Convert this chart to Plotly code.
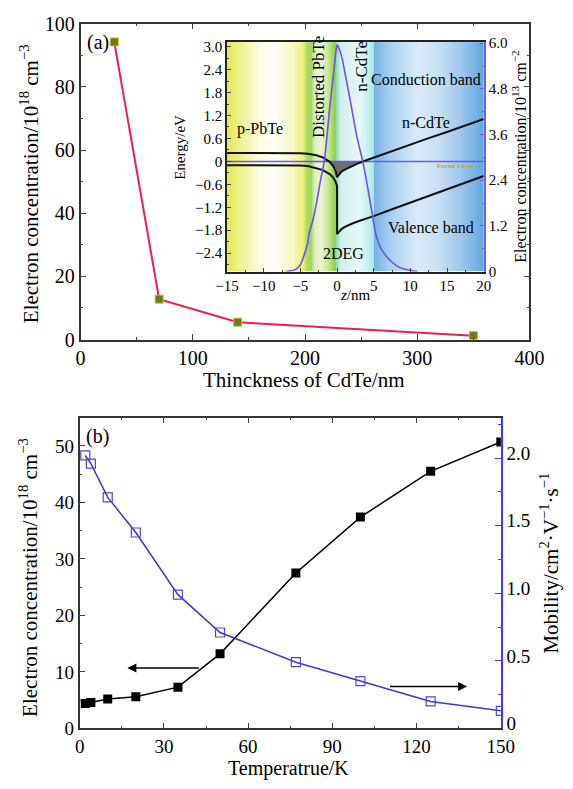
import numpy as np
import plotly.graph_objects as go

W, H = 573, 789
def px(x): return x / W
def py(y): return 1 - y / H

# ---------------- data ----------------
# panel (a) main
thickness = [30, 70, 140, 350]
conc_a = [94.2, 12.8, 5.5, 1.2]

# panel (a) inset: band diagram
z_cb = [-15, -6, -5, -4, -3, -2, -1.5, -1, -0.5, -0.2, 0, 0.3, 0.6, 1, 1.5, 2, 3, 4, 5, 7.5, 10, 12.5, 15, 17.5, 20]
cb = [0.22, 0.22, 0.215, 0.20, 0.17, 0.11, 0.06, -0.01, -0.13, -0.25, -0.41, -0.33, -0.27, -0.22, -0.17, -0.12, -0.04, 0.03, 0.10, 0.27, 0.44, 0.61, 0.77, 0.94, 1.11]
z_vb = [-15, -6, -5, -4, -3, -2, -1, -0.5, -0.2, 0, 0, 0.3, 0.6, 1, 1.5, 2, 3, 4, 5, 7.5, 10, 12.5, 15, 17.5, 20]
vb = [-0.10, -0.10, -0.105, -0.12, -0.16, -0.22, -0.33, -0.43, -0.53, -0.64, -1.90, -1.82, -1.77, -1.72, -1.67, -1.63, -1.56, -1.50, -1.43, -1.25, -1.08, -0.90, -0.73, -0.55, -0.38]
fermi_level = 0.0
z_n = [-7, -6.5, -5.7, -5, -4.65, -4, -3.8, -3.3, -2.8, -2.3, -1.7, -1.0, -0.5, -0.2, 0, 0.3, 0.73, 1.0, 1.5, 2.0, 2.7, 3.5, 4.0, 4.6, 5.3, 6.0, 6.8, 8.0, 9.0, 10.3, 11]
n2d = [0, 0.01, 0.05, 0.18, 0.34, 0.75, 1.0, 1.35, 1.8, 2.35, 2.95, 4.3, 5.15, 5.7, 5.95, 5.85, 5.57, 5.3, 4.8, 4.29, 3.55, 2.9, 2.4, 1.74, 0.97, 0.6, 0.38, 0.17, 0.07, 0.02, 0]

# panel (b)
temp = [2, 4, 10, 20, 35, 50, 77, 100, 125, 150]
conc_b = [4.4, 4.6, 5.2, 5.6, 7.3, 13.2, 27.5, 37.4, 45.5, 50.7]
mobility = [2.02, 1.96, 1.71, 1.45, 0.99, 0.71, 0.49, 0.35, 0.20, 0.13]

# tick labels
inset_y_ticks = [3.0, 2.4, 1.8, 1.2, 0.6, 0, -0.6, -1.2, -1.8, -2.4]
inset_y_text = ["3.0", "2.4", "1.8", "1.2", "0.6", "0", "\u22120.6", "\u22121.2", "\u22121.8", "\u22122.4"]
inset_x_ticks = [-15, -10, -5, 0, 5, 10, 15, 20]
inset_x_text = ["\u221215", "\u221210", "\u22125", "0", "5", "10", "15", "20"]
inset_r_ticks = [0, 1.2, 2.4, 3.6, 4.8, 6.0]
inset_r_text = ["0", "1.2", "2.4", "3.6", "4.8", "6.0"]
mob_ticks = [0, 0.5, 1.0, 1.5, 2.0]
mob_text = ["0", "0.5", "1.0", "1.5", "2.0"]

# background colour bands of the inset (position nm -> colour)
bg_pos = [-15, -13, -10.5, -8.5, -6, -4.6, -4.2, -3.6, -3.0, -2.2, -1.2, -0.3, 0, 0.5, 3.0, 4.7, 4.95, 5.05, 7, 11, 14, 17, 20]
bg_col = ["#e3e94e", "#eff296", "#fbfbe4", "#fdfdf5", "#f6f7c0", "#eef07e", "#b6dd55", "#9fd46a",
          "#e0f0c0", "#eaf5d5", "#c5e890", "#8fd048", "#9fdcc8", "#d2f0ee", "#e6f8f8", "#b5ecec",
          "#a8e6ea", "#74b2e4", "#a4cdf0", "#dbeaf8", "#c6def4", "#9ac6ec", "#5ea6e2"]

FONT = "Liberation Serif"
TICK = 20
TICK_B = 19
TITLE = 21

fig = go.Figure()

# ---------- inset background ----------
edges = np.linspace(-15, 20, 351)
centers = (edges[:-1] + edges[1:]) / 2
cs = [[(p - bg_pos[0]) / (bg_pos[-1] - bg_pos[0]), c] for p, c in zip(bg_pos, bg_col)]
fig.add_trace(go.Heatmap(x=edges, y=[-2.88, 3.12], z=[centers], colorscale=cs, zmin=-15, zmax=20,
                         showscale=False, hoverinfo="skip", xaxis="x2", yaxis="y2"))

# gray 2DEG well fill
fig.add_trace(go.Scatter(x=z_cb, y=[fermi_level] * len(z_cb), mode="lines", line=dict(width=0),
                         xaxis="x2", yaxis="y2", hoverinfo="skip"))
fig.add_trace(go.Scatter(x=z_cb, y=list(np.minimum(cb, fermi_level)), mode="lines", line=dict(width=0),
                         fill="tonexty", fillcolor="#6f6f6f", xaxis="x2", yaxis="y2", hoverinfo="skip"))
# Fermi level
fig.add_trace(go.Scatter(x=[-15, 20], y=[fermi_level, fermi_level], mode="lines",
                         line=dict(color="#6a5cf0", width=1.5), xaxis="x2", yaxis="y2"))
# bands
fig.add_trace(go.Scatter(x=z_cb, y=cb, mode="lines", line=dict(color="#111111", width=2),
                         xaxis="x2", yaxis="y2"))
fig.add_trace(go.Scatter(x=z_vb, y=vb, mode="lines", line=dict(color="#111111", width=2),
                         xaxis="x2", yaxis="y2"))
# electron density
fig.add_trace(go.Scatter(x=z_n, y=n2d, mode="lines", line=dict(color="#7050e8", width=1.6, shape="spline", smoothing=0.6),
                         xaxis="x2", yaxis="y3"))

# ---------- main panel (a) ----------
fig.add_trace(go.Scatter(x=thickness, y=conc_a, mode="lines+markers",
                         line=dict(color="#e8234a", width=2),
                         marker=dict(symbol="square", size=8, color="#6b7d12", line=dict(color="#b9bc3a", width=1)),
                         xaxis="x", yaxis="y"))

# ---------- panel (b) ----------
fig.add_trace(go.Scatter(x=temp, y=conc_b, mode="lines+markers",
                         line=dict(color="black", width=1.5),
                         marker=dict(symbol="square", size=9, color="black"),
                         xaxis="x3", yaxis="y4"))
fig.add_trace(go.Scatter(x=temp, y=mobility, mode="lines+markers",
                         line=dict(color="#3a3ac8", width=1.5),
                         marker=dict(symbol="square-open", size=9, color="#4a4ad8", line=dict(width=1.2)),
                         xaxis="x3", yaxis="y5"))

ax_common = dict(showgrid=False, zeroline=False, showline=True, ticks="inside",
                 tickfont=dict(family=FONT, size=TICK, color="black"))
ax_common_b = dict(showgrid=False, zeroline=False, showline=True, ticks="inside",
                   tickfont=dict(family=FONT, size=TICK_B, color="black"))

fig.update_layout(
    width=W, height=H, margin=dict(l=0, r=0, t=0, b=0),
    paper_bgcolor="white", plot_bgcolor="white", showlegend=False,
    font=dict(family=FONT, color="black"),
    xaxis=dict(**ax_common, domain=[px(72), px(543)], anchor="y", range=[0, 400],
               tickvals=[0, 100, 200, 300, 400], ticklen=6, tickwidth=1.3, linewidth=1.5, linecolor="#333",
               mirror="ticks", minor=dict(dtick=50, ticklen=3, ticks="inside")),
    yaxis=dict(**ax_common, domain=[py(338), py(13)], anchor="x", range=[0, 100],
               tickvals=[0, 20, 40, 60, 80, 100], ticklen=6, tickwidth=1.3, linewidth=1.5, linecolor="#333",
               mirror="ticks", minor=dict(dtick=10, ticklen=3, ticks="inside")),
    xaxis2=dict(showgrid=False, zeroline=False, showline=True, ticks="inside", domain=[px(225.7), px(495)],
                anchor="y2", range=[-15, 20], tickvals=inset_x_ticks, ticktext=inset_x_text,
                ticklen=4, linewidth=1.5, linecolor="#222", mirror=True,
                minor=dict(dtick=2.5, ticklen=2, ticks="inside"),
                tickfont=dict(family=FONT, size=15, color="black")),
    yaxis2=dict(showgrid=False, zeroline=False, showline=True, ticks="inside", domain=[py(268), py(32)],
                anchor="x2", range=[-2.88, 3.12], tickvals=inset_y_ticks, ticktext=inset_y_text,
                ticklen=4, linewidth=1.5, linecolor="#222",
                minor=dict(dtick=0.3, ticklen=2, ticks="inside"),
                tickfont=dict(family=FONT, size=15, color="black")),
    yaxis3=dict(showgrid=False, zeroline=False, showline=True, ticks="inside", overlaying="y2", side="right",
                anchor="x2", range=[0, 6.03], tickvals=inset_r_ticks, ticktext=inset_r_text,
                ticklen=4, linewidth=2, linecolor="#7b5cf0", tickcolor="#7b5cf0",
                minor=dict(dtick=0.6, ticklen=2, ticks="inside", tickcolor="#7b5cf0"),
                tickfont=dict(family=FONT, size=15, color="black")),
    xaxis3=dict(**ax_common_b, domain=[px(71), px(513)], anchor="y4", range=[0, 150],
                tickvals=[0, 30, 60, 90, 120, 150], ticklen=6, tickwidth=1.3, linewidth=1.5, linecolor="#333",
                mirror="ticks", minor=dict(dtick=15, ticklen=3, ticks="inside")),
    yaxis4=dict(**ax_common_b, domain=[py(738), py(418.3)], anchor="x3", range=[0, 55],
                tickvals=[0, 10, 20, 30, 40, 50], ticklen=6, tickwidth=1.3, linewidth=1.5, linecolor="#333",
                minor=dict(dtick=5, ticklen=3, ticks="inside")),
    yaxis5=dict(**ax_common_b, overlaying="y4", side="right", anchor="x3", range=[0, 2.3],
                tickvals=mob_ticks, ticktext=mob_text, ticklen=6, tickwidth=1.3, linewidth=1.5,
                linecolor="#3c3cf0", tickcolor="#3c3cf0", ticklabelshift=-5,
                minor=dict(dtick=0.25, ticklen=3, ticks="inside", tickcolor="#3c3cf0")),
)

ann = []
def txt(x, y, s, size, angle=0, xref="paper", yref="paper", color="black", **kw):
    ann.append(dict(x=x, y=y, xref=xref, yref=yref, text=s, showarrow=False, textangle=angle,
                    font=dict(family=FONT, size=size, color=color), xanchor="center", yanchor="middle", **kw))

# axis titles
txt(px(18), py(178), "Electron concentration/10<sup>18</sup> cm<sup>\u22123</sup>", TITLE, -90)
txt(px(306), py(380), "Thinckness of CdTe/nm", TITLE)
txt(px(18), py(583), "Electron concentration/10<sup>18</sup> cm<sup>\u22123</sup>", TITLE, -90)
txt(px(290), py(779), "Temperatrue/K", 20)
txt(px(564), py(568), "Mobility/cm<sup>2</sup>\u00b7V<sup>\u22121</sup>\u00b7s<sup>\u22121</sup>", TITLE, -90)
txt(px(90), py(32), "(a)", TICK)
txt(px(90), py(438), "(b)", TICK)
# inset titles
txt(px(176), py(140), "Energy/eV", 15, -90)
txt(px(360), py(292), "<i>z</i>/nm", 15)
txt(px(532), py(150), "Electron concentration/10<sup>13</sup> cm<sup>\u22122</sup>", 16, -90)
# inset labels
txt(-10.5, 0.84, "p-PbTe", 16, xref="x2", yref="y2")
txt(-2.5, 1.94, "Distorted PbTe", 17, -90, xref="x2", yref="y2")
txt(3.33, 2.49, "n-CdTe", 17, -90, xref="x2", yref="y2")
txt(12.2, 2.13, "Conduction band", 16, xref="x2", yref="y2")
txt(12.2, 1.01, "n-CdTe", 16, xref="x2", yref="y2")
txt(16.1, -0.12, "<b>Fermi Level</b>", 7, xref="x2", yref="y2", color="#c9a800")
txt(12.85, -1.73, "Valence band", 16, xref="x2", yref="y2")
txt(0.93, -2.41, "2DEG", 16, xref="x2", yref="y2")

# arrows in panel (b)
ann.append(dict(x=17, y=10.7, ax=43, ay=10.7, xref="x3", yref="y4", axref="x3", ayref="y4",
                showarrow=True, arrowhead=2, arrowsize=1.2, arrowwidth=1.5, arrowcolor="black", text=""))
ann.append(dict(x=138, y=7.4, ax=110, ay=7.4, xref="x3", yref="y4", axref="x3", ayref="y4",
                showarrow=True, arrowhead=2, arrowsize=1.2, arrowwidth=1.5, arrowcolor="black", text=""))

fig.update_layout(annotations=ann)
fig.write_html("out.html")
